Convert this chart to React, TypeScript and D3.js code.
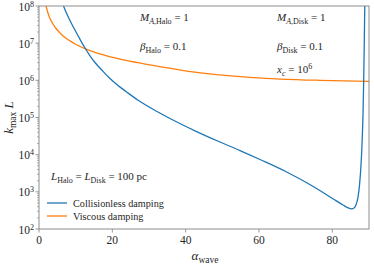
import React from "react";
import * as d3 from "d3";

const xTicks = [0, 20, 40, 60, 80];
const yTickExps = [2, 3, 4, 5, 6, 7, 8];

// Collisionless damping: alpha_wave (deg) and k_max L
const collAlpha = [6.68, 7.36, 8.18, 9.0, 10.09, 11.18, 12.55, 13.91, 15.27, 17.38, 19.36, 21.55, 23.73, 26.91, 30.27, 35.73, 42.55, 49.36, 54.82, 60.27, 67.55, 74.81, 80.26, 82.91, 84.27, 85.28, 85.91, 86.45, 87.0, 87.41, 87.82, 88.09, 88.36, 88.56, 88.72, 88.85];
const collK = [1e8, 6.9e7, 4.61e7, 3.18e7, 2.0e7, 1.27e7, 7.41e6, 4.57e6, 3.02e6, 1.78e6, 1.12e6, 7.26e5, 5.01e5, 2.96e5, 1.86e5, 9.4e4, 4.39e4, 2.19e4, 1.29e4, 7.41e3, 3.42e3, 1.39e3, 641, 442, 372, 349, 367, 442, 724, 1.52e3, 5.26e3, 1.82e4, 1.16e5, 1.02e6, 1.21e7, 1e8];

// Viscous damping
const viscAlpha = [1.91, 2.45, 3.0, 3.82, 4.64, 5.73, 7.09, 8.45, 9.82, 11.18, 12.55, 15.27, 18.0, 20.73, 23.73, 30.27, 40.28, 58.45, 76.64, 90];
const viscK = [1e8, 6.49e7, 4.61e7, 3.28e7, 2.48e7, 1.88e7, 1.42e7, 1.15e7, 9.5e6, 8.15e6, 7.11e6, 5.69e6, 4.73e6, 4.0e6, 3.42e6, 2.59e6, 1.78e6, 1.19e6, 1.0e6, 9.4e5];

const W = 374, H = 266;
const L = 39, R = 369, T = 6, B = 229;
const FONT = "'Liberation Serif', 'DejaVu Serif', serif";
const TXT = "#262626";
const AX = "#808080";

export default function App() {
  const x = d3.scaleLinear().domain([0, 90]).range([L, R]);
  const y = d3.scaleLog().domain([1e2, 1e8]).range([B, T]);
  const line = d3.line<[number, number]>()
    .x(d => x(d[0]))
    .y(d => y(d[1]))
    .curve(d3.curveMonotoneX);
  const collPts = collAlpha.map((a, i) => [a, collK[i]] as [number, number]);
  const viscPts = viscAlpha.map((a, i) => [a, viscK[i]] as [number, number]);

  const minor: number[] = [];
  for (let e = 2; e < 8; e++) for (let m = 2; m <= 9; m++) minor.push(m * Math.pow(10, e));

  return (
    <svg width={W} height={H} style={{ position: "absolute", left: 0, top: 0, background: "#fff" }} fontFamily={FONT}>
      <defs>
        <clipPath id="plot"><rect x={L} y={T} width={R - L} height={B - T} /></clipPath>
      </defs>
      <g clipPath="url(#plot)" fill="none" strokeWidth={1.3}>
        <path d={line(viscPts) || ""} stroke="#ff7f0e" />
        <path d={line(collPts) || ""} stroke="#1f77b4" />
      </g>
      <rect x={L} y={T} width={R - L} height={B - T} fill="none" stroke={AX} strokeWidth={0.9} />
      {xTicks.map(t => (
        <g key={"x" + t}>
          <line x1={x(t)} x2={x(t)} y1={B} y2={B + 3.5} stroke={AX} strokeWidth={0.8} />
          <text x={x(t)} y={B + 15} fontSize={11.5} textAnchor="middle" fill={TXT}>{t}</text>
        </g>
      ))}
      {minor.map((v, i) => (
        <line key={"m" + i} x1={L - 2} x2={L} y1={y(v)} y2={y(v)} stroke={AX} strokeWidth={0.6} />
      ))}
      {yTickExps.map(e => (
        <g key={"y" + e}>
          <line x1={L - 3.5} x2={L} y1={y(Math.pow(10, e))} y2={y(Math.pow(10, e))} stroke={AX} strokeWidth={0.8} />
          <text x={L - 5} y={y(Math.pow(10, e)) + 4.5} fontSize={11.5} textAnchor="end" fill={TXT}>
            10<tspan dy={-4} fontSize={8}>{e}</tspan>
          </text>
        </g>
      ))}
      <text x={205} y={260} fontSize={13} textAnchor="middle" fill={TXT} fontStyle="italic">
        α<tspan dy={2.5} fontSize={9.5} fontStyle="normal">wave</tspan>
      </text>
      <text transform={`translate(13,${(T + B) / 2}) rotate(-90)`} fontSize={13} textAnchor="middle" fill={TXT}>
        <tspan fontStyle="italic">k</tspan><tspan dy={2.5} fontSize={9.5}>max</tspan><tspan dy={-2.5} fontStyle="italic"> L</tspan>
      </text>
      <g fontSize={11} fill={TXT}>
        <text x={140} y={21}><tspan fontStyle="italic">M</tspan><tspan dy={3} fontSize={8}><tspan fontStyle="italic">A</tspan>,Halo</tspan><tspan dy={-3}> = 1</tspan></text>
        <text x={140} y={50}><tspan fontStyle="italic">β</tspan><tspan dy={3} fontSize={8}>Halo</tspan><tspan dy={-3}> = 0.1</tspan></text>
        <text x={277} y={21}><tspan fontStyle="italic">M</tspan><tspan dy={3} fontSize={8}><tspan fontStyle="italic">A</tspan>,Disk</tspan><tspan dy={-3}> = 1</tspan></text>
        <text x={277} y={50}><tspan fontStyle="italic">β</tspan><tspan dy={3} fontSize={8}>Disk</tspan><tspan dy={-3}> = 0.1</tspan></text>
        <text x={277} y={73}><tspan fontStyle="italic">x</tspan><tspan dy={3} fontSize={8} fontStyle="italic">c</tspan><tspan dy={-3}> = 10</tspan><tspan dy={-4.5} fontSize={8}>6</tspan></text>
        <text x={51} y={180}><tspan fontStyle="italic">L</tspan><tspan dy={3} fontSize={8}>Halo</tspan><tspan dy={-3}> = </tspan><tspan fontStyle="italic">L</tspan><tspan dy={3} fontSize={8}>Disk</tspan><tspan dy={-3}> = 100 pc</tspan></text>
      </g>
      <g fontSize={10.2} fill={TXT}>
        <line x1={47} x2={67} y1={203} y2={203} stroke="#1f77b4" strokeWidth={1.3} />
        <text x={73} y={206.5}>Collisionless damping</text>
        <line x1={47} x2={67} y1={216} y2={216} stroke="#ff7f0e" strokeWidth={1.3} />
        <text x={73} y={219.5}>Viscous damping</text>
      </g>
    </svg>
  );
}
